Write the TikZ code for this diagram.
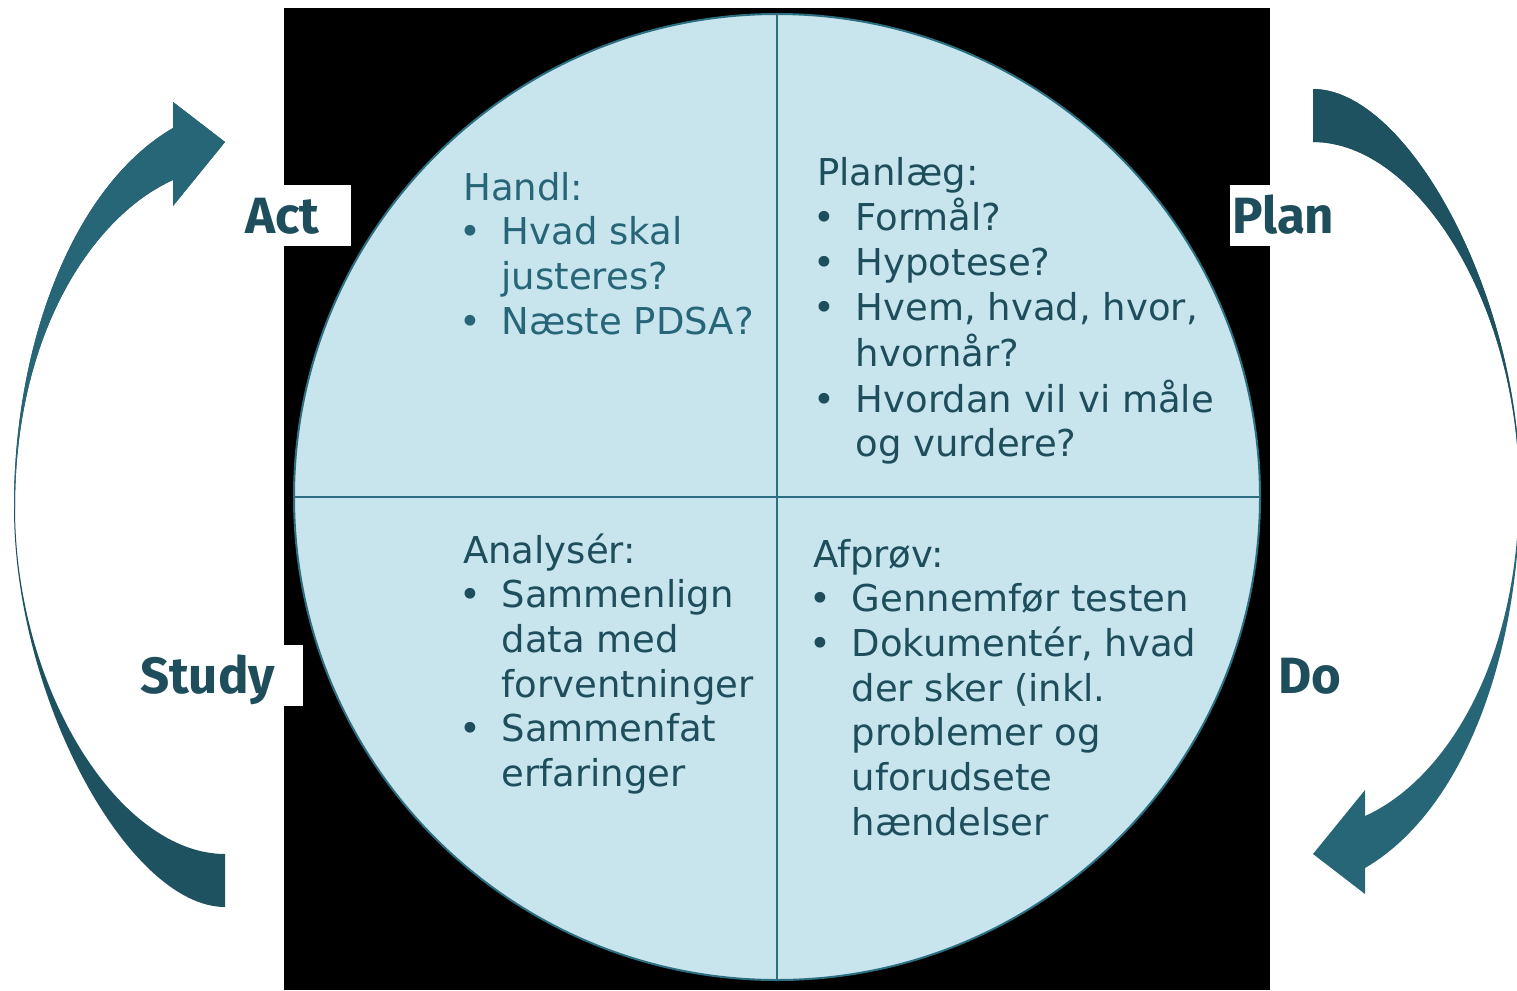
\documentclass[tikz,border=0pt]{standalone}
\usepackage{fontspec}
\setmainfont{DejaVu Sans}
\newfontfamily\lblfont{Fira Sans}
\definecolor{arrlt}{HTML}{276677}
\definecolor{arrdk}{HTML}{1E5260}
\definecolor{lbltxt}{HTML}{1E4E5B}
\definecolor{circfill}{HTML}{C8E5EE}
\definecolor{circline}{HTML}{2B6F80}
\definecolor{txtdark}{HTML}{1E4E5B}
\definecolor{txtlight}{HTML}{276677}
\newcommand\qfont{\fontsize{37}{44.7}\selectfont}
\newcommand\bl{\makebox[38.5pt][l]{\hspace{-4pt}•}}
\newcommand\ind{\hspace*{38.5pt}}
\newcommand\leftarr{(225,907) .. controls (130,907) and (14,700) .. (14,507)
  .. controls (14,340) and (75,185) .. (173,128)
  -- (173,102) -- (225,142) -- (173,206) -- (173,180)
  .. controls (95,215) and (15,330) .. (15,507)
  .. controls (15,690) and (120,854) .. (225,854) -- cycle}
\newcommand\rightarr{(1313,89) .. controls (1408,89) and (1520,296) .. (1520,489)
  .. controls (1520,656) and (1463,811) .. (1365,868)
  -- (1365,894) -- (1313,854) -- (1365,790) -- (1365,816)
  .. controls (1443,781) and (1519,666) .. (1519,489)
  .. controls (1519,306) and (1418,142) .. (1313,142) -- cycle}
\tikzset{
  qtext/.style={anchor=base west, inner sep=0pt, font=\qfont},
  lbl/.style={fill=white, font=\lblfont\bfseries\fontsize{51}{51}\selectfont,
    text=lbltxt, text height=35pt, text depth=0pt, minimum height=61pt,
    inner ysep=0pt, align=left},
  divline/.style={draw=circline, line width=2pt}
}
\begin{document}
\begin{tikzpicture}[x=1pt,y=-1pt]
\useasboundingbox (0,0) rectangle (1517,990);
% black background panel
\fill[black] (284,8) rectangle (1270,990);
% circle
\node[circle, fill=circfill, draw=circline, line width=2pt, minimum size=966pt, inner sep=0pt] (circ) at (777,497) {};
\draw[divline] (circ.north) -- (circ.south);
\draw[divline] (circ.west) -- (circ.east);
% arrows
\fill[arrdk] \leftarr;
\begin{scope}
\clip (0,0) rectangle (300,507);
\fill[arrlt] \leftarr;
\end{scope}
\fill[arrlt] \rightarr;
\begin{scope}
\clip (1250,0) rectangle (1517,489);
\fill[arrdk] \rightarr;
\end{scope}
% labels
\node[lbl, inner xsep=8pt, text width=98pt] (act) at (294,215.5) {Act};
\node[lbl, inner xsep=2pt, text width=111pt] (plan) at (1287.5,215.5) {Plan};
\node[lbl, inner xsep=8pt, text width=155pt] (study) at (217.5,675.5) {Study};
\node[lbl, inner xsep=8pt, text width=64pt] (do) at (1310,675.5) {Do};
% quadrant texts
\node[qtext, text=txtlight] (handl) at (463,200) {\begin{tabular}[t]{@{}l@{}}
Handl:\\
\bl Hvad skal\\
\ind justeres?\\
\bl Næste PDSA?
\end{tabular}};
\node[qtext, text=txtdark] (planlaeg) at (817,185) {\begin{tabular}[t]{@{}l@{}}
Planlæg:\\
\bl Formål?\\
\bl Hypotese?\\
\bl Hvem, hvad, hvor,\\
\ind hvornår?\\
\bl Hvordan vil vi måle\\
\ind og vurdere?
\end{tabular}};
\node[qtext, text=txtdark] (analyser) at (463,563) {\begin{tabular}[t]{@{}l@{}}
Analysér:\\
\bl Sammenlign\\
\ind data med\\
\ind forventninger\\
\bl Sammenfat\\
\ind erfaringer
\end{tabular}};
\node[qtext, text=txtdark] (afprov) at (813,567) {\begin{tabular}[t]{@{}l@{}}
Afprøv:\\
\bl Gennemfør testen\\
\bl Dokumentér, hvad\\
\ind der sker (inkl.\\
\ind problemer og\\
\ind uforudsete\\
\ind hændelser
\end{tabular}};
\end{tikzpicture}
\end{document}
